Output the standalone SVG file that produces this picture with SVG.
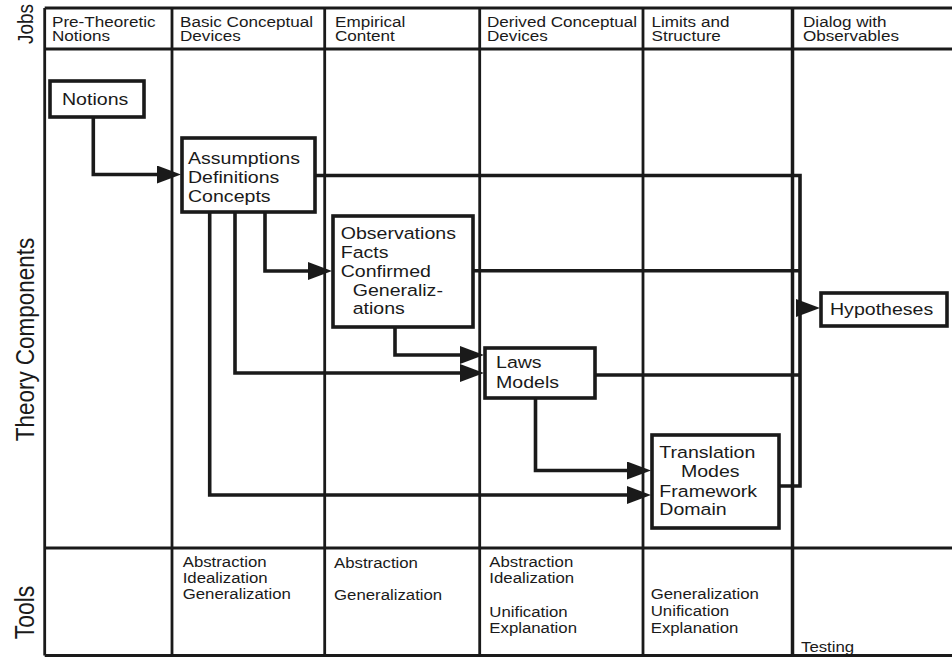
<svg xmlns="http://www.w3.org/2000/svg" width="952" height="657" viewBox="0 0 952 657">
<defs>
<style>
text{font-family:"Liberation Sans",Arial,Helvetica,sans-serif;fill:#1a1a1a}
.hd{font-size:15px}
.nd{font-size:16.3px}
.tl{font-size:15px}
.ax{font-size:22.5px;text-anchor:middle}
.grid{stroke:#1a1a1a;stroke-width:2.8;fill:none}
.box{fill:#fff;stroke:#1a1a1a;stroke-width:3.6}
.con{fill:none;stroke:#1a1a1a;stroke-width:3.6}
.arr{marker-end:url(#ah)}
</style>
<marker id="ah" markerUnits="userSpaceOnUse" markerWidth="24" markerHeight="18" refX="14" refY="9" orient="auto">
<path d="M0,0 L24,9 L0,18 z" fill="#1a1a1a"/>
</marker>
</defs>
<rect width="952" height="657" fill="#fff"/>
<g id="grid">
<path class="grid" d="M44.7,8 H952 M44.7,49 H952 M44.7,548 H952 M44.7,655.5 H952"/>
<path class="grid" d="M44.7,8 V655.5 M172,8 V655.5 M324.7,8 V655.5 M479.7,8 V655.5 M643,8 V655.5"/>
<path class="grid" style="stroke-width:3.5" d="M792.5,8 V655.5"/>
</g>
<g id="axis-labels">
<text class="ax" style="font-size:19px" transform="translate(33,24) scale(1.2,1) rotate(-90)">Jobs</text>
<text class="ax" transform="translate(34,339.5) scale(1.17,1) rotate(-90)">Theory Components</text>
<text class="ax" style="font-size:23px" transform="translate(33.5,612.5) scale(1.17,1) rotate(-90)">Tools</text>
</g>
<g id="headers">
<text class="hd" transform="translate(52,26.5) scale(1.14,1)"><tspan x="0" y="0">Pre-Theoretic</tspan><tspan x="0" y="15">Notions</tspan></text>
<text class="hd" transform="translate(180,26.5) scale(1.14,1)"><tspan x="0" y="0">Basic Conceptual</tspan><tspan x="0" y="15">Devices</tspan></text>
<text class="hd" transform="translate(335,26.5) scale(1.14,1)"><tspan x="0" y="0">Empirical</tspan><tspan x="0" y="15">Content</tspan></text>
<text class="hd" transform="translate(487,26.5) scale(1.14,1)"><tspan x="0" y="0">Derived Conceptual</tspan><tspan x="0" y="15">Devices</tspan></text>
<text class="hd" transform="translate(651.5,26.5) scale(1.14,1)"><tspan x="0" y="0">Limits and</tspan><tspan x="0" y="15">Structure</tspan></text>
<text class="hd" transform="translate(803,26.5) scale(1.14,1)"><tspan x="0" y="0">Dialog with</tspan><tspan x="0" y="15">Observables</tspan></text>
</g>
<g id="connectors">
<path class="con arr" d="M93.3,117 V174.5 H171"/>
<path class="con arr" d="M265,212 V271 H322"/>
<path class="con arr" d="M235,212 V373 H474"/>
<path class="con arr" d="M209.7,212 V495 H641"/>
<path class="con arr" d="M395,327 V355 H474"/>
<path class="con arr" d="M535.5,398 V470.5 H641"/>
<path class="con" d="M315,175.5 H800 V486 H779"/>
<path class="con" d="M473,270.7 H800"/>
<path class="con" d="M595,375 H800"/>
<path class="con arr" d="M800,308 H810"/>
</g>
<g id="notions">
<rect class="box" x="50" y="81" width="94" height="36"/>
<text class="nd" transform="translate(62,105) scale(1.2,1)">Notions</text>
</g>
<g id="assumptions">
<rect class="box" x="182" y="138" width="133" height="74"/>
<text class="nd" transform="translate(188,164.3) scale(1.2,1)"><tspan x="0" y="0">Assumptions</tspan><tspan x="0" y="19">Definitions</tspan><tspan x="0" y="38">Concepts</tspan></text>
</g>
<g id="observations">
<rect class="box" x="333" y="216" width="140" height="111"/>
<text class="nd" transform="translate(340.7,239) scale(1.2,1)"><tspan x="0" y="0">Observations</tspan><tspan x="0" y="18.8">Facts</tspan><tspan x="0" y="37.7">Confirmed</tspan><tspan x="10" y="56.7">Generaliz-</tspan><tspan x="10" y="75.3">ations</tspan></text>
</g>
<g id="laws">
<rect class="box" x="485" y="348" width="110" height="50"/>
<text class="nd" transform="translate(496,368) scale(1.2,1)"><tspan x="0" y="0">Laws</tspan><tspan x="0" y="20">Models</tspan></text>
</g>
<g id="translation">
<rect class="box" x="652" y="435" width="127" height="93"/>
<text class="nd" transform="translate(659.3,458) scale(1.2,1)"><tspan x="0" y="0">Translation</tspan><tspan x="18" y="19.3">Modes</tspan><tspan x="0" y="38.7">Framework</tspan><tspan x="0" y="57">Domain</tspan></text>
</g>
<g id="hypotheses">
<rect class="box" x="821" y="293" width="126" height="33"/>
<text class="nd" transform="translate(830,314.5) scale(1.2,1)">Hypotheses</text>
</g>
<g id="tools">
<text class="tl" transform="translate(182.7,566.7) scale(1.12,1)"><tspan x="0" y="0">Abstraction</tspan><tspan x="0" y="16.5">Idealization</tspan><tspan x="0" y="32.5">Generalization</tspan></text>
<text class="tl" transform="translate(334,567.5) scale(1.12,1)"><tspan x="0" y="0">Abstraction</tspan><tspan x="0" y="32.5">Generalization</tspan></text>
<text class="tl" transform="translate(489.3,566.7) scale(1.12,1)"><tspan x="0" y="0">Abstraction</tspan><tspan x="0" y="16.6">Idealization</tspan><tspan x="0" y="50">Unification</tspan><tspan x="0" y="66.5">Explanation</tspan></text>
<text class="tl" transform="translate(650.7,599.3) scale(1.12,1)"><tspan x="0" y="0">Generalization</tspan><tspan x="0" y="16.7">Unification</tspan><tspan x="0" y="33.3">Explanation</tspan></text>
<text class="tl" transform="translate(801,651.7) scale(1.12,1)">Testing</text>
</g>
</svg>
